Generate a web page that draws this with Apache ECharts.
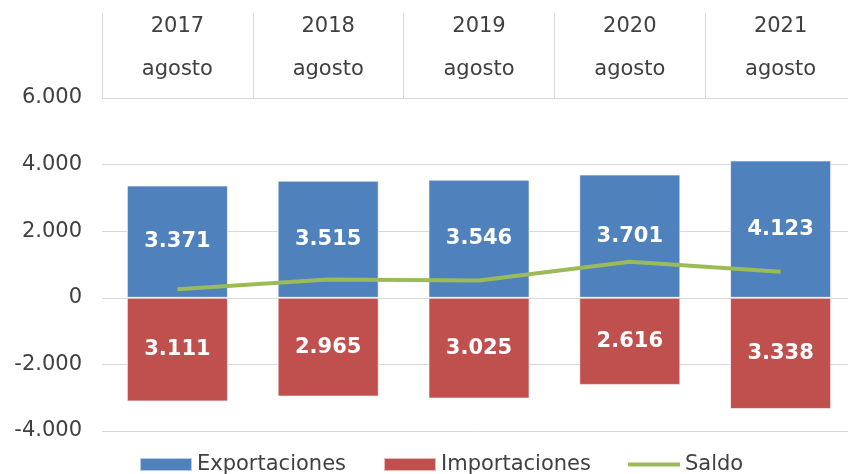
<!DOCTYPE html>
<html lang="es">

<head>
    <meta charset="UTF-8">
    <title>Exportaciones e importaciones agosto</title>
    <script src="https://cdn.jsdelivr.net/npm/echarts@6/dist/echarts.min.js"></script>
    <style>
        html, body { margin: 0; padding: 0; background: #fff; }
        #chart { width: 848px; height: 474px; }
    </style>
</head>

<body>
    <div id="chart"></div>

    <script>
        // datos
        var years = ['2017', '2018', '2019', '2020', '2021'];
        var month = 'agosto';
        var exportaciones = [3371, 3515, 3546, 3701, 4123];
        var importaciones = [-3111, -2965, -3025, -2616, -3338];
        var saldo = [260, 550, 521, 1085, 785];

        // separador de miles con punto
        function fmt(v) {
            var s = String(Math.abs(v)).replace(/\B(?=(\d{3})+(?!\d))/g, '.');
            return v < 0 ? '-' + s : s;
        }

        var font = 'DejaVu Sans';
        var myChart = echarts.init(document.getElementById('chart'));

        var barLabel = {
            show: true,
            position: 'inside',
            color: '#fff',
            fontFamily: font,
            fontWeight: 'bold',
            fontSize: 21,
            formatter: function (p) {
                return fmt(Math.abs(p.value));
            }
        };

        var option = {
            animation: false,
            textStyle: { fontFamily: font },
            grid: {
                left: 102,
                width: 754,
                top: 98,
                bottom: 43,
                outerBoundsMode: 'none'
            },
            legend: {
                bottom: -6,
                left: 134,
                itemWidth: 52,
                itemHeight: 13,
                itemGap: 37,
                textStyle: { fontFamily: font, fontSize: 21, color: '#404040' },
                data: [
                    { name: 'Exportaciones', icon: 'rect' },
                    { name: 'Importaciones', icon: 'rect' },
                    // línea fina centrada en la caja de la leyenda
                    { name: 'Saldo', icon: 'path://M0,0 M0,13 M0,4.5 L52,4.5 L52,8.5 L0,8.5 Z' }
                ]
            },
            xAxis: {
                type: 'category',
                position: 'top',
                data: years,
                axisLine: { onZero: false, lineStyle: { color: '#d9d9d9' } },
                axisTick: {
                    show: true,
                    length: 85,
                    lineStyle: { color: '#d9d9d9' }
                },
                axisLabel: {
                    fontFamily: font,
                    fontSize: 21,
                    lineHeight: 43,
                    color: '#404040',
                    margin: 7,
                    formatter: function (v) {
                        return v + '\n' + month;
                    }
                }
            },
            yAxis: {
                type: 'value',
                min: -4000,
                max: 6000,
                interval: 2000,
                axisLine: { show: false },
                axisTick: { show: false },
                splitLine: { lineStyle: { color: '#d9d9d9', width: 1 } },
                axisLabel: {
                    fontFamily: font,
                    fontSize: 21,
                    color: '#404040',
                    margin: 20,
                    formatter: fmt
                }
            },
            series: [{
                    name: 'Exportaciones',
                    type: 'bar',
                    stack: 'total',
                    barWidth: '67%',
                    itemStyle: {
                        color: '#4f81bd',
                        borderColor: 'rgba(255,255,255,0.6)',
                        borderWidth: 1
                    },
                    label: barLabel,
                    data: exportaciones
                },
                {
                    name: 'Importaciones',
                    type: 'bar',
                    stack: 'total',
                    barWidth: '67%',
                    itemStyle: {
                        color: '#c0504d',
                        borderColor: 'rgba(255,255,255,0.6)',
                        borderWidth: 1
                    },
                    label: barLabel,
                    data: importaciones
                },
                {
                    name: 'Saldo',
                    type: 'line',
                    symbol: 'none',
                    z: 5,
                    lineStyle: { color: '#9bbb59', width: 4 },
                    itemStyle: { color: '#9bbb59' },
                    data: saldo
                }
            ]
        };

        myChart.setOption(option);
    </script>
</body>

</html>
